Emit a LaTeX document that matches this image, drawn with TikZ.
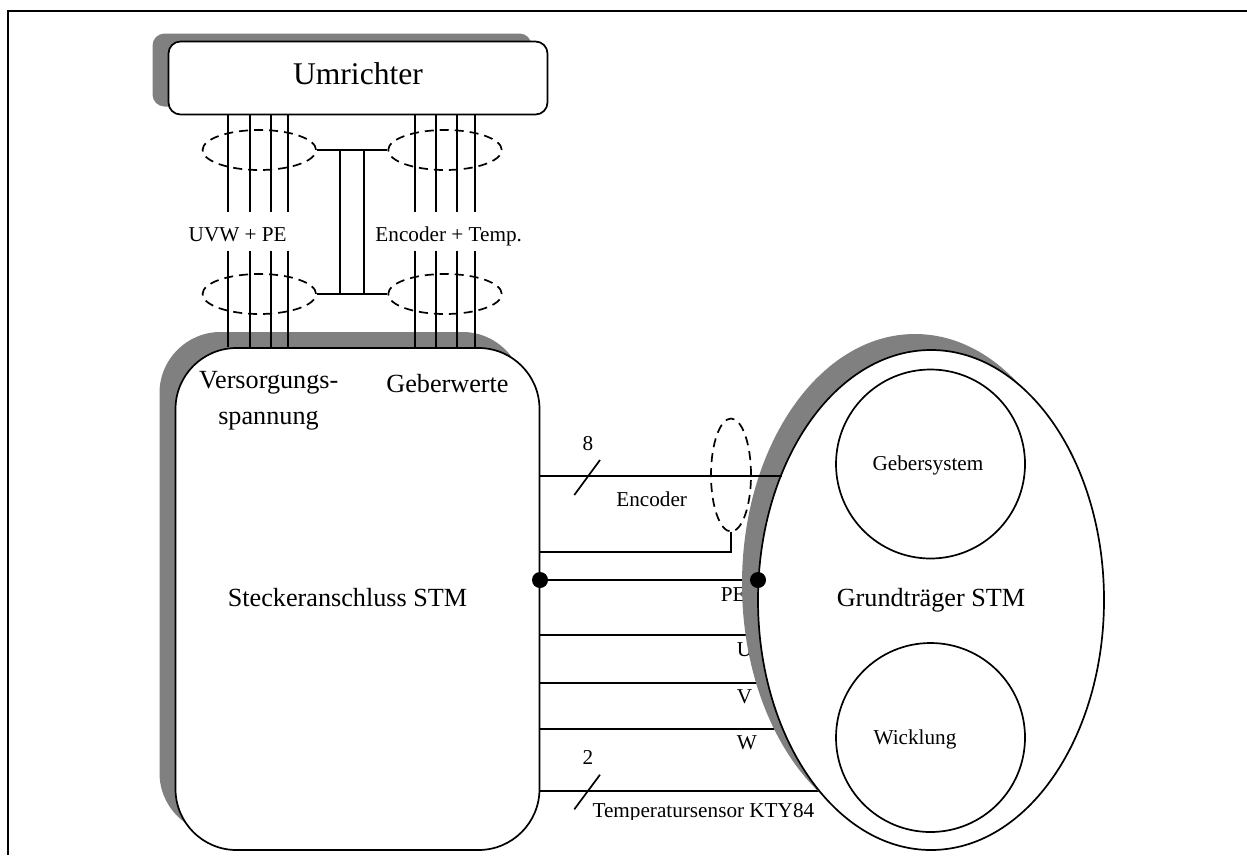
\documentclass[tikz,border=0pt]{standalone}
\usepackage{fontspec}
\setmainfont{Liberation Serif}
\usetikzlibrary{shapes.geometric,calc}
\definecolor{shadowgray}{HTML}{808080}
\tikzset{
  x=1pt,y=-1pt,
  big/.style={font=\fontsize{26.2}{26.2}\selectfont,anchor=base,inner sep=0pt},
  huge label/.style={font=\fontsize{31.6}{31.6}\selectfont,anchor=base,inner sep=0pt},
  small/.style={font=\fontsize{21.2}{21.2}\selectfont,anchor=base,inner sep=0pt},
  smallw/.style={font=\fontsize{21.2}{21.2}\selectfont,anchor=base west,inner sep=0pt},
  umrbox/.style={rectangle,rounded corners=12pt,minimum width=379pt,minimum height=73pt,inner sep=0pt},
  stmbox/.style={rectangle,rounded corners=61pt,minimum width=364pt,minimum height=502pt,inner sep=0pt},
  grundshape/.style={ellipse,minimum width=346pt,minimum height=500pt,inner sep=0pt},
  solidshape/.style={draw=black,fill=white},
  shadowshape/.style={draw=none,fill=shadowgray},
  bundle/.style={ellipse,draw=black,dash pattern=on 9pt off 6pt,inner sep=0pt},
  bundleh/.style={bundle,minimum width=113.5pt,minimum height=40pt},
  bundlev/.style={bundle,minimum width=40pt,minimum height=113pt},
  dotnode/.style={circle,fill=black,draw=none,minimum size=16pt,inner sep=0pt},
  circ/.style={circle,draw=black,minimum size=189pt,inner sep=0pt},
}
\begin{document}
\begin{tikzpicture}[line width=1.7pt]
\useasboundingbox (0,0) rectangle (1247,855);
\draw[line width=2pt] (1247,10.5) -- (7.5,10.5) -- (7.5,855);

% named reference coordinates
\coordinate (upEnd) at (0,212);
\coordinate (lowStart) at (0,250.7);
\coordinate (yEnc) at (0,476);
\coordinate (yShield) at (0,551.7);
\coordinate (yPE) at (0,580);
\coordinate (yU) at (0,635);
\coordinate (yV) at (0,683);
\coordinate (yW) at (0,729);
\coordinate (yT) at (0,791);
\coordinate (xEncEnd) at (782,0);
\coordinate (xEnd) at (830,0);
\coordinate (xLeg1) at (340,0);
\coordinate (xLeg2) at (364,0);

% labels partly hidden by the shadow of the carrier
\node[smallw] (lPE) at (720,601) {PE};
\node[smallw] (lU) at (736,656) {U};
\node[smallw] (lV) at (736,703.5) {V};
\node[smallw] (lW) at (736,749.5) {W};

% shadows
\node[umrbox,shadowshape] (umrS) at (342,70) {};
\node[stmbox,shadowshape] (stmS) at (341.5,583) {};

% main boxes geometry
\node[umrbox,solidshape] (umr) at (358,78) {};
\node[stmbox,solidshape] (stm) at (357.5,599) {};
\node[huge label] (tUmr) at (358,84) {Umrichter};

% connections to the carrier, running under its shadow
\draw (stm.east |- yPE) -- (xEnd |- yPE);
\draw (stm.east |- yU) -- (xEnd |- yU);
\draw (stm.east |- yV) -- (xEnd |- yV);
\draw (stm.east |- yW) -- (xEnd |- yW);
\draw (stm.east |- yT) -- (xEnd |- yT);

% carrier
\node[grundshape,shadowshape] (grundS) at (915,584) {};
\node[grundshape,solidshape] (grund) at (931,600) {};
\node[circ] (geb) at (930.5,464) {};
\node[circ] (wick) at (930.5,737.5) {};
\node[small] (tGeb) at (928,470) {Gebersystem};
\node[small] (tWick) at (915,744) {Wicklung};
\node[big] (tGrund) at (931,606) {Grundträger STM};

% bundles
\node[bundleh] (b1) at (259.3,150) {};
\node[bundleh] (b2) at (445,150) {};
\node[bundleh] (b3) at (259.3,294) {};
\node[bundleh] (b4) at (445,294) {};
\draw (b1.east) -- (b2.west);
\draw (b3.east) -- (b4.west);
\draw (xLeg1 |- b1.east) -- (xLeg1 |- b3.east);
\draw (xLeg2 |- b1.east) -- (xLeg2 |- b3.east);

% vertical wires
\foreach \w in {228,249.7,270.7,288.3,414.7,436.3,457,474.7}{
  \coordinate (wx) at (\w,0);
  \draw (wx |- umr.south) -- (wx |- upEnd);
  \draw (wx |- lowStart) -- (wx |- stm.north);
}
\node[small] (lUVW) at (237.7,241) {UVW + PE};
\node[small] (lEncT) at (448.7,241) {Encoder + Temp.};

% texts in the connector box
\node[big] (tVers) at (268.7,388.5) {Versorgungs-};
\node[big] (tSpan) at (268.5,424) {spannung};
\node[big] (tGeberw) at (447.5,392) {Geberwerte};
\node[big] (tSteck) at (347.5,606) {Steckeranschluss STM};

% encoder lines
\draw (stm.east |- yEnc) -- (xEncEnd |- yEnc);
\node[bundlev] (bv) at (731,475) {};
\draw (stm.east |- yShield) -| (bv.south);

% dots
\node[dotnode] (pL) at (540,580) {};
\node[dotnode] (pR) at (758,580) {};

% slashes and numbers
\coordinate (s1a) at (574.3,495);
\coordinate (s1b) at (600,460);
\coordinate (s2a) at (574.3,809.3);
\coordinate (s2b) at (600,774.7);
\draw (s1a) -- (s1b);
\draw (s2a) -- (s2b);
\node[small] (n8) at (588,450) {8};
\node[small] (n2) at (588,764) {2};
\node[small] (lEnc) at (651.7,506) {Encoder};

\begin{scope}
\clip (585,795) rectangle (830,819.5);
\node[smallw] (lTemp) at (591.7,817) {Temperatursensor KTY84};
\end{scope}
\end{tikzpicture}
\end{document}
